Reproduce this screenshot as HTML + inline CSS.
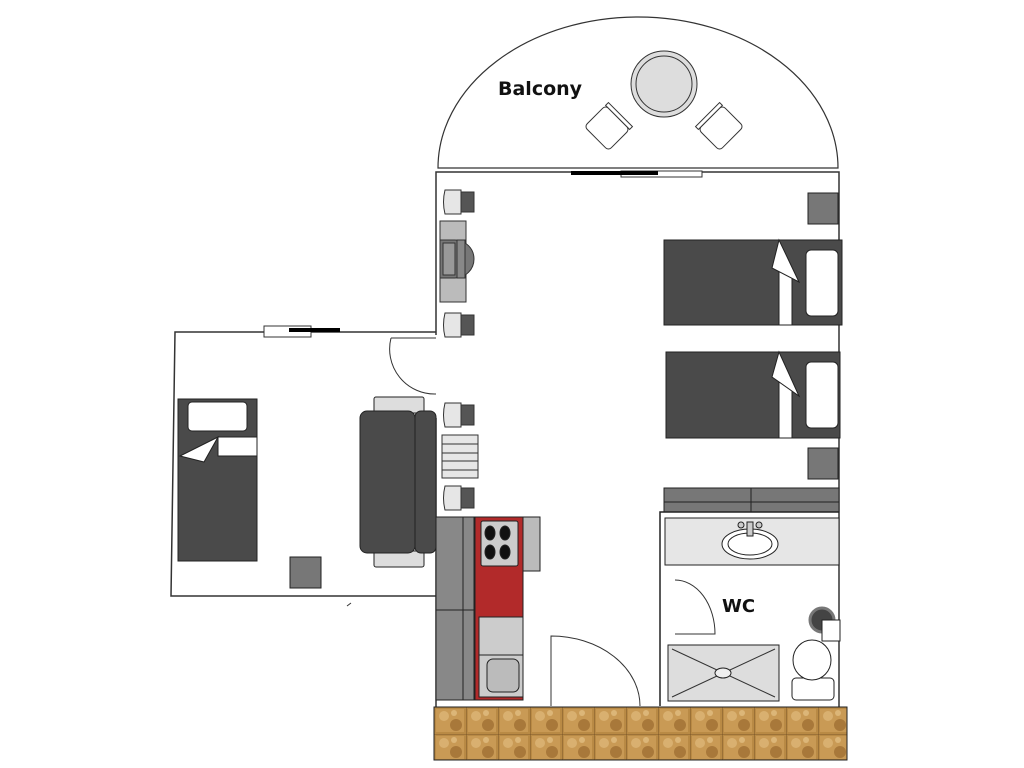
<!DOCTYPE html>
<html><head><meta charset="utf-8"><style>html,body{margin:0;padding:0;background:#fff;}svg{display:block}</style></head>
<body>
<svg width="1024" height="768" viewBox="0 0 1024 768" xmlns="http://www.w3.org/2000/svg" font-family="'DejaVu Sans','Liberation Sans',sans-serif">
<defs>
<pattern id="tile" x="434" y="707" width="32" height="27" patternUnits="userSpaceOnUse">
<rect width="32" height="27" fill="#b98a45"/>
<rect x="2" y="2" width="28" height="23" fill="#c99a55"/>
<circle cx="10" cy="9" r="5" fill="#d9b070"/>
<circle cx="22" cy="18" r="6" fill="#a8783a"/>
<circle cx="20" cy="6" r="3" fill="#dcb678"/>
<line x1="0" y1="0" x2="32" y2="0" stroke="#6b4a20" stroke-width="0.8"/>
<line x1="0" y1="0" x2="0" y2="27" stroke="#6b4a20" stroke-width="0.8"/>
</pattern>
</defs>
<!-- balcony -->
<path d="M438,168 A200,151 0 0 1 838,168 Z" fill="#fff" stroke="#333" stroke-width="1.2"/>
<text x="498" y="95" font-size="19" font-weight="bold" fill="#111">Balcony</text>
<circle cx="664" cy="84" r="33" fill="#ddd" stroke="#333"/>
<circle cx="664" cy="84" r="28" fill="#ddd" stroke="#333"/>
<g transform="translate(607,128) rotate(45)"><rect x="-17" y="-15" width="34" height="30" rx="4" fill="#fff" stroke="#333"/><rect x="-17" y="-19" width="34" height="4" fill="#fff" stroke="#333"/></g>
<g transform="translate(721,128) rotate(-45)"><rect x="-17" y="-15" width="34" height="30" rx="4" fill="#fff" stroke="#333"/><rect x="-17" y="-19" width="34" height="4" fill="#fff" stroke="#333"/></g>
<!-- main room walls -->
<g fill="none" stroke="#333" stroke-width="1.5">
<polyline points="436,335 436,172 839,172 839,708"/>
<line x1="436" y1="418" x2="436" y2="708"/>
<!-- left room -->
<polyline points="436,332 175,332 171,596 436,596"/>
<line x1="347" y1="606" x2="351" y2="603" stroke-width="1"/>
</g>
<!-- windows -->
<rect x="621" y="171" width="81" height="6" fill="#fff" stroke="#333"/>
<rect x="571" y="171" width="87" height="4" fill="#000"/>
<rect x="264" y="326" width="47" height="11" fill="#fff" stroke="#333"/>
<rect x="289" y="328" width="51" height="4" fill="#000"/>
<!-- door left room -->
<path d="M391,338 L436,338 M391,338 A45,45 0 0 0 436,394" fill="none" stroke="#333"/>
<!-- desk and chairs -->
<g fill="#e6e6e6" stroke="#333">
<path d="M445,190 h16 v24 h-16 q-3,-12 0,-24z"/><rect x="461" y="192" width="13" height="20" fill="#555"/>
<path d="M445,313 h16 v24 h-16 q-3,-12 0,-24z"/><rect x="461" y="315" width="13" height="20" fill="#555"/>
<path d="M445,403 h16 v24 h-16 q-3,-12 0,-24z"/><rect x="461" y="405" width="13" height="20" fill="#555"/>
<path d="M445,486 h16 v24 h-16 q-3,-12 0,-24z"/><rect x="461" y="488" width="13" height="20" fill="#555"/>
<rect x="440" y="221" width="26" height="81" fill="#bbb"/>
<path d="M455,240 A19,19 0 0 1 455,278 L440,278 L440,240Z" fill="#777"/>
<rect x="443" y="243" width="12" height="32" fill="#999"/>
<rect x="457" y="240" width="8" height="38" fill="#888"/>
<rect x="442" y="435" width="36" height="43" fill="#e6e6e6"/>
<line x1="442" y1="444" x2="478" y2="444"/><line x1="442" y1="453" x2="478" y2="453"/><line x1="442" y1="461" x2="478" y2="461"/><line x1="442" y1="470" x2="478" y2="470"/>
</g>
<!-- beds right -->
<g stroke="#222">
<rect x="664" y="240" width="178" height="85" fill="#4a4a4a"/>
<rect x="806" y="250" width="32" height="66" rx="5" fill="#fff"/>
<rect x="779" y="270" width="13" height="55" fill="#fff"/>
<path d="M779,240 L772,268 L799,282Z" fill="#fff"/>
<rect x="666" y="352" width="174" height="86" fill="#4a4a4a"/>
<rect x="806" y="362" width="32" height="66" rx="5" fill="#fff"/>
<rect x="779" y="382" width="13" height="56" fill="#fff"/>
<path d="M779,352 L772,377 L799,396Z" fill="#fff"/>
<rect x="808" y="193" width="30" height="31" fill="#777"/>
<rect x="808" y="448" width="30" height="31" fill="#777"/>
<rect x="664" y="488" width="87" height="24" fill="#777"/>
<rect x="751" y="488" width="88" height="24" fill="#777"/>
<line x1="664" y1="502" x2="839" y2="502"/>
</g>
<!-- left room furniture -->
<g stroke="#222">
<rect x="178" y="399" width="79" height="162" fill="#4a4a4a"/>
<rect x="188" y="402" width="59" height="29" rx="4" fill="#fff"/>
<rect x="218" y="437" width="39" height="19" fill="#fff"/>
<path d="M218,437 L180,456 L204,462Z" fill="#fff"/>
<rect x="374" y="397" width="50" height="16" rx="2" fill="#ddd"/>
<rect x="374" y="551" width="50" height="16" rx="2" fill="#ddd"/>
<rect x="360" y="411" width="55" height="142" rx="7" fill="#4a4a4a"/>
<rect x="415" y="411" width="21" height="142" rx="6" fill="#4a4a4a"/>
<rect x="290" y="557" width="31" height="31" fill="#777"/>
</g>
<!-- kitchen -->
<g stroke="#222">
<rect x="436" y="517" width="38" height="183" fill="#888"/>
<line x1="436" y1="610" x2="474" y2="610"/><line x1="463" y1="517" x2="463" y2="700"/>
<rect x="475" y="517" width="48" height="183" fill="#b22a2a"/>
<rect x="481" y="521" width="37" height="45" rx="2" fill="#ccc"/>
<ellipse cx="490" cy="533" rx="5" ry="7" fill="#111"/><ellipse cx="505" cy="533" rx="5" ry="7" fill="#111"/>
<ellipse cx="490" cy="552" rx="5" ry="7" fill="#111"/><ellipse cx="505" cy="552" rx="5" ry="7" fill="#111"/>
<rect x="479" y="617" width="44" height="38" fill="#ccc"/>
<rect x="479" y="655" width="44" height="42" fill="#ccc"/>
<rect x="487" y="659" width="32" height="33" rx="6" fill="#bbb"/>
<rect x="523" y="517" width="17" height="54" fill="#bbb"/>
</g>
<!-- entrance door -->
<path d="M551,706 L551,636 A89,70 0 0 1 640,706" fill="none" stroke="#333"/>
<!-- WC -->
<g stroke="#222">
<polyline points="660,706 660,512 839,512" fill="none" stroke-width="1.5"/>
<rect x="665" y="518" width="174" height="47" fill="#e6e6e6"/>
<ellipse cx="750" cy="544" rx="28" ry="15" fill="#fff"/>
<ellipse cx="750" cy="544" rx="22" ry="11" fill="#fff"/>
<rect x="747" y="522" width="6" height="14" fill="#ccc"/>
<circle cx="741" cy="525" r="3" fill="#ccc"/><circle cx="759" cy="525" r="3" fill="#ccc"/>
<rect x="668" y="645" width="111" height="56" fill="#ddd"/>
<path d="M672,649 L775,697 M775,649 L672,697" stroke="#333"/>
<ellipse cx="723" cy="673" rx="8" ry="5" fill="#eee"/>
<rect x="792" y="678" width="42" height="22" rx="4" fill="#fff"/>
<ellipse cx="812" cy="660" rx="19" ry="20" fill="#fff"/>
<circle cx="822" cy="620" r="12" fill="#444" stroke="#777" stroke-width="3"/>
<rect x="822" y="620" width="18" height="21" fill="#fff"/>
</g>
<path d="M675,580 A40,54 0 0 1 715,634 L675,634" fill="none" stroke="#333"/>
<text x="722" y="612" font-size="18" font-weight="bold" fill="#111">WC</text>
<!-- floor strip -->
<rect x="434" y="707" width="413" height="53" fill="url(#tile)" stroke="#222"/>
</svg>
</body></html>
